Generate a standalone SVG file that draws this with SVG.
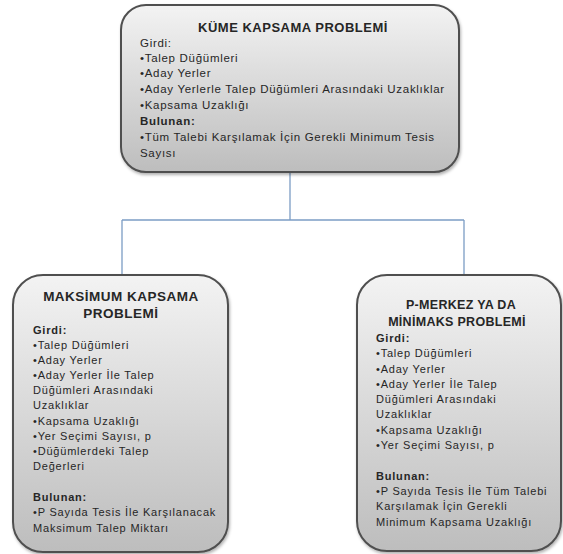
<svg xmlns="http://www.w3.org/2000/svg" width="563" height="554" viewBox="0 0 563 554">
  <style>
    .box { stroke: #4f4f4f; stroke-width: 2; fill: url(#boxFill); filter: url(#shade); }
    .link { stroke: #7b9cc4; stroke-width: 1.3; fill: none; }
    text { font-family: "Liberation Sans", Arial, sans-serif; fill: #262626; }
    .title { font-weight: bold; text-anchor: middle; }
    .t-root { font-size: 13px; letter-spacing: 0.5px; }
    .t-left { font-size: 13.5px; letter-spacing: 0.5px; }
    .t-right { font-size: 12.5px; letter-spacing: 0.3px; }
    .root-line { font-size: 11.5px; letter-spacing: 0.7px; }
    .leaf-line { font-size: 11px; letter-spacing: 0.8px; }
    .head { font-weight: bold; }
  </style>
  <defs>
    <linearGradient id="boxFill" x1="0" y1="0" x2="0" y2="1">
      <stop offset="0" stop-color="#f3f3f3"/>
      <stop offset="1" stop-color="#bdbdbd"/>
    </linearGradient>
    <filter id="shade" x="-10%" y="-10%" width="120%" height="120%">
      <feDropShadow dx="1" dy="2" stdDeviation="1.5" flood-color="#000" flood-opacity="0.3"/>
    </filter>
  </defs>

  <!-- tree connectors -->
  <g id="connectors">
    <path class="link" d="M290,172 V220"/>
    <path class="link" d="M122,220 H464"/>
    <path class="link" d="M122,220 V275"/>
    <path class="link" d="M464,220 V275"/>
  </g>

  <!-- root: set covering -->
  <g id="kume-kapsama">
    <rect class="box" x="121" y="5" width="338" height="167" rx="25" ry="25"/>
    <text class="title t-root" x="293" y="32">KÜME KAPSAMA  PROBLEMİ</text>
    <g class="root-line">
      <text x="140" y="47">Girdi:</text>
      <text x="140" y="62">•Talep Düğümleri</text>
      <text x="140" y="77">•Aday Yerler</text>
      <text x="140" y="93">•Aday Yerlerle Talep Düğümleri Arasındaki Uzaklıklar</text>
      <text x="140" y="109">•Kapsama Uzaklığı</text>
      <text class="head" x="140" y="125">Bulunan:</text>
      <text x="140" y="141">•Tüm Talebi Karşılamak İçin Gerekli Minimum Tesis</text>
      <text x="140" y="157">Sayısı</text>
    </g>
  </g>

  <!-- child: maximal covering -->
  <g id="maksimum-kapsama">
    <rect class="box" x="13" y="275" width="215" height="277" rx="30" ry="30"/>
    <text class="title t-left" x="121" y="301">MAKSİMUM  KAPSAMA</text>
    <text class="title t-left" x="121" y="318">PROBLEMİ</text>
    <g class="leaf-line">
      <text class="head" x="33" y="334">Girdi:</text>
      <text x="33" y="349">•Talep Düğümleri</text>
      <text x="33" y="364">•Aday Yerler</text>
      <text x="33" y="379">•Aday Yerler İle Talep</text>
      <text x="33" y="394">Düğümleri Arasındaki</text>
      <text x="33" y="409">Uzaklıklar</text>
      <text x="33" y="425">•Kapsama Uzaklığı</text>
      <text x="33" y="440">•Yer Seçimi  Sayısı, p</text>
      <text x="33" y="455">•Düğümlerdeki Talep</text>
      <text x="33" y="470">Değerleri</text>
      <text class="head" x="33" y="501">Bulunan:</text>
      <text x="33" y="516">•P Sayıda Tesis İle Karşılanacak</text>
      <text x="33" y="532">Maksimum Talep Miktarı</text>
    </g>
  </g>

  <!-- child: p-center / minimax -->
  <g id="p-merkez">
    <rect class="box" x="357" y="275" width="204" height="276" rx="30" ry="30"/>
    <text class="title t-right" x="461" y="309">P-MERKEZ YA DA</text>
    <text class="title t-right" x="457" y="326">MİNİMAKS  PROBLEMİ</text>
    <g class="leaf-line">
      <text class="head" x="376" y="342">Girdi:</text>
      <text x="376" y="357">•Talep Düğümleri</text>
      <text x="376" y="373">•Aday Yerler</text>
      <text x="376" y="388">•Aday Yerler İle Talep</text>
      <text x="376" y="403">Düğümleri Arasındaki</text>
      <text x="376" y="418">Uzaklıklar</text>
      <text x="376" y="434">•Kapsama Uzaklığı</text>
      <text x="376" y="449">•Yer Seçimi Sayısı, p</text>
      <text class="head" x="376" y="480">Bulunan:</text>
      <text x="376" y="495">•P Sayıda Tesis İle Tüm Talebi</text>
      <text x="376" y="510">Karşılamak İçin Gerekli</text>
      <text x="376" y="526">Minimum Kapsama Uzaklığı</text>
    </g>
  </g>
</svg>
